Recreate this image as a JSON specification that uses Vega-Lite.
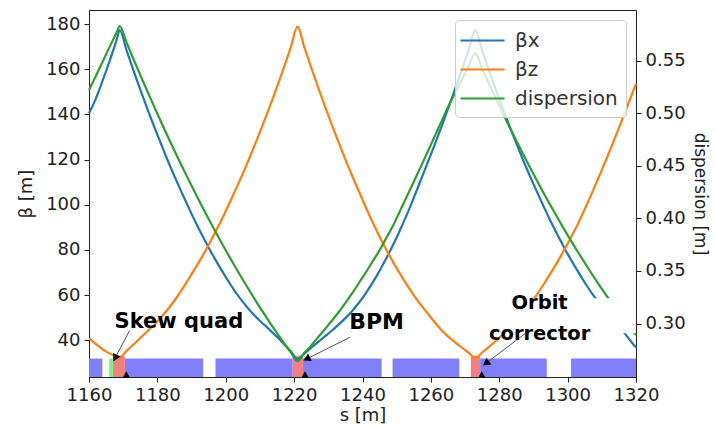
{
  "$schema": "https://vega.github.io/schema/vega-lite/v6.json",
  "width": 547,
  "height": 367,
  "autosize": {"type": "none"},
  "padding": {"left": 89, "top": 10, "right": 79, "bottom": 49},
  "config": {
    "font": "DejaVu Sans",
    "view": {"stroke": "#222", "strokeWidth": 1},
    "axis": {
      "grid": false,
      "domainColor": "#222",
      "tickColor": "#222",
      "tickSize": 5,
      "labelFont": "DejaVu Sans",
      "labelFontSize": 18,
      "labelColor": "#222",
      "labelPadding": 4,
      "labelOverlap": false,
      "labelBound": false,
      "labelFlush": false,
      "titleFont": "DejaVu Sans",
      "titleFontSize": 18,
      "titleFontWeight": "normal",
      "titleColor": "#222"
    }
  },
  "datasets": {
    "lattice": [
      {"s0": 1160, "s1": 1163.9, "kind": "dipole"},
      {"s0": 1170.5, "s1": 1193.4, "kind": "dipole"},
      {"s0": 1197.0, "s1": 1219.6, "kind": "dipole"},
      {"s0": 1222.6, "s1": 1245.6, "kind": "dipole"},
      {"s0": 1248.8, "s1": 1268.3, "kind": "dipole"},
      {"s0": 1274.4, "s1": 1293.9, "kind": "dipole"},
      {"s0": 1301.0, "s1": 1320, "kind": "dipole"},
      {"s0": 1165.9, "s1": 1167.0, "kind": "skew"},
      {"s0": 1167.0, "s1": 1170.5, "kind": "quad"},
      {"s0": 1219.6, "s1": 1222.6, "kind": "quad"},
      {"s0": 1271.7, "s1": 1274.4, "kind": "quad"}
    ],
    "beta": [
      {"s": 1160, "series": "βx", "v": 140.5},
      {"s": 1162, "series": "βx", "v": 147.0},
      {"s": 1164, "series": "βx", "v": 155.0},
      {"s": 1166, "series": "βx", "v": 163.5},
      {"s": 1168, "series": "βx", "v": 172.5},
      {"s": 1169, "series": "βx", "v": 177.3},
      {"s": 1171, "series": "βx", "v": 168.3},
      {"s": 1173, "series": "βx", "v": 159.5},
      {"s": 1175, "series": "βx", "v": 151.0},
      {"s": 1177, "series": "βx", "v": 142.8},
      {"s": 1179, "series": "βx", "v": 134.8},
      {"s": 1181, "series": "βx", "v": 127.2},
      {"s": 1183, "series": "βx", "v": 119.7},
      {"s": 1185, "series": "βx", "v": 112.6},
      {"s": 1187, "series": "βx", "v": 105.8},
      {"s": 1189, "series": "βx", "v": 99.2},
      {"s": 1191, "series": "βx", "v": 92.8},
      {"s": 1193, "series": "βx", "v": 86.8},
      {"s": 1195, "series": "βx", "v": 81.0},
      {"s": 1197, "series": "βx", "v": 75.6},
      {"s": 1199, "series": "βx", "v": 70.5},
      {"s": 1201, "series": "βx", "v": 65.6},
      {"s": 1203, "series": "βx", "v": 61.0},
      {"s": 1205, "series": "βx", "v": 57.0},
      {"s": 1207, "series": "βx", "v": 53.3},
      {"s": 1209, "series": "βx", "v": 50.1},
      {"s": 1211, "series": "βx", "v": 47.2},
      {"s": 1213, "series": "βx", "v": 44.4},
      {"s": 1215, "series": "βx", "v": 41.5},
      {"s": 1217, "series": "βx", "v": 38.4},
      {"s": 1219, "series": "βx", "v": 35.1},
      {"s": 1221, "series": "βx", "v": 31.8},
      {"s": 1223, "series": "βx", "v": 34.1},
      {"s": 1225, "series": "βx", "v": 36.7},
      {"s": 1227, "series": "βx", "v": 39.2},
      {"s": 1229, "series": "βx", "v": 41.7},
      {"s": 1231, "series": "βx", "v": 44.2},
      {"s": 1233, "series": "βx", "v": 46.9},
      {"s": 1235, "series": "βx", "v": 49.8},
      {"s": 1237, "series": "βx", "v": 53.0},
      {"s": 1239, "series": "βx", "v": 56.7},
      {"s": 1241, "series": "βx", "v": 60.9},
      {"s": 1243, "series": "βx", "v": 65.6},
      {"s": 1245, "series": "βx", "v": 70.8},
      {"s": 1247, "series": "βx", "v": 76.4},
      {"s": 1249, "series": "βx", "v": 82.4},
      {"s": 1251, "series": "βx", "v": 88.8},
      {"s": 1253, "series": "βx", "v": 95.7},
      {"s": 1255, "series": "βx", "v": 103.1},
      {"s": 1257, "series": "βx", "v": 110.7},
      {"s": 1259, "series": "βx", "v": 118.4},
      {"s": 1261, "series": "βx", "v": 126.2},
      {"s": 1263, "series": "βx", "v": 134.1},
      {"s": 1265, "series": "βx", "v": 142.4},
      {"s": 1267, "series": "βx", "v": 150.8},
      {"s": 1269, "series": "βx", "v": 159.4},
      {"s": 1271, "series": "βx", "v": 168.3},
      {"s": 1273, "series": "βx", "v": 177.3},
      {"s": 1275, "series": "βx", "v": 168.3},
      {"s": 1277, "series": "βx", "v": 159.5},
      {"s": 1279, "series": "βx", "v": 151.0},
      {"s": 1281, "series": "βx", "v": 142.8},
      {"s": 1283, "series": "βx", "v": 134.8},
      {"s": 1285, "series": "βx", "v": 127.2},
      {"s": 1287, "series": "βx", "v": 119.7},
      {"s": 1289, "series": "βx", "v": 112.6},
      {"s": 1291, "series": "βx", "v": 105.8},
      {"s": 1293, "series": "βx", "v": 99.2},
      {"s": 1295, "series": "βx", "v": 92.8},
      {"s": 1297, "series": "βx", "v": 86.8},
      {"s": 1299, "series": "βx", "v": 81.0},
      {"s": 1301, "series": "βx", "v": 75.6},
      {"s": 1303, "series": "βx", "v": 70.5},
      {"s": 1305, "series": "βx", "v": 65.6},
      {"s": 1307, "series": "βx", "v": 61.0},
      {"s": 1309, "series": "βx", "v": 57.0},
      {"s": 1311, "series": "βx", "v": 53.0},
      {"s": 1313, "series": "βx", "v": 49.5},
      {"s": 1315, "series": "βx", "v": 46.0},
      {"s": 1317, "series": "βx", "v": 42.5},
      {"s": 1319, "series": "βx", "v": 38.6},
      {"s": 1320, "series": "βx", "v": 36.9},
      {"s": 1160, "series": "βz", "v": 40.8},
      {"s": 1162, "series": "βz", "v": 38.3},
      {"s": 1164, "series": "βz", "v": 36.0},
      {"s": 1166, "series": "βz", "v": 34.2},
      {"s": 1168, "series": "βz", "v": 32.9},
      {"s": 1169, "series": "βz", "v": 32.6},
      {"s": 1171, "series": "βz", "v": 35.3},
      {"s": 1173, "series": "βz", "v": 38.1},
      {"s": 1175, "series": "βz", "v": 41.0},
      {"s": 1177, "series": "βz", "v": 43.9},
      {"s": 1179, "series": "βz", "v": 46.8},
      {"s": 1181, "series": "βz", "v": 50.0},
      {"s": 1183, "series": "βz", "v": 53.6},
      {"s": 1185, "series": "βz", "v": 57.6},
      {"s": 1187, "series": "βz", "v": 62.0},
      {"s": 1189, "series": "βz", "v": 66.8},
      {"s": 1191, "series": "βz", "v": 71.7},
      {"s": 1193, "series": "βz", "v": 76.8},
      {"s": 1195, "series": "βz", "v": 82.2},
      {"s": 1197, "series": "βz", "v": 88.0},
      {"s": 1199, "series": "βz", "v": 94.0},
      {"s": 1201, "series": "βz", "v": 100.4},
      {"s": 1203, "series": "βz", "v": 107.0},
      {"s": 1205, "series": "βz", "v": 113.8},
      {"s": 1207, "series": "βz", "v": 120.9},
      {"s": 1209, "series": "βz", "v": 128.4},
      {"s": 1211, "series": "βz", "v": 136.0},
      {"s": 1213, "series": "βz", "v": 144.0},
      {"s": 1215, "series": "βz", "v": 152.2},
      {"s": 1217, "series": "βz", "v": 160.7},
      {"s": 1219, "series": "βz", "v": 169.5},
      {"s": 1221, "series": "βz", "v": 178.8},
      {"s": 1223, "series": "βz", "v": 169.6},
      {"s": 1225, "series": "βz", "v": 160.7},
      {"s": 1227, "series": "βz", "v": 152.0},
      {"s": 1229, "series": "βz", "v": 143.6},
      {"s": 1231, "series": "βz", "v": 135.5},
      {"s": 1233, "series": "βz", "v": 127.7},
      {"s": 1235, "series": "βz", "v": 120.0},
      {"s": 1237, "series": "βz", "v": 112.7},
      {"s": 1239, "series": "βz", "v": 105.7},
      {"s": 1241, "series": "βz", "v": 98.8},
      {"s": 1243, "series": "βz", "v": 92.1},
      {"s": 1245, "series": "βz", "v": 85.8},
      {"s": 1247, "series": "βz", "v": 80.0},
      {"s": 1249, "series": "βz", "v": 74.5},
      {"s": 1251, "series": "βz", "v": 69.4},
      {"s": 1253, "series": "βz", "v": 64.5},
      {"s": 1255, "series": "βz", "v": 60.0},
      {"s": 1257, "series": "βz", "v": 55.8},
      {"s": 1259, "series": "βz", "v": 52.0},
      {"s": 1261, "series": "βz", "v": 48.2},
      {"s": 1263, "series": "βz", "v": 44.7},
      {"s": 1265, "series": "βz", "v": 41.7},
      {"s": 1267, "series": "βz", "v": 39.2},
      {"s": 1269, "series": "βz", "v": 36.8},
      {"s": 1271, "series": "βz", "v": 34.5},
      {"s": 1273, "series": "βz", "v": 32.2},
      {"s": 1275, "series": "βz", "v": 34.6},
      {"s": 1277, "series": "βz", "v": 37.1},
      {"s": 1279, "series": "βz", "v": 39.7},
      {"s": 1281, "series": "βz", "v": 42.5},
      {"s": 1283, "series": "βz", "v": 45.5},
      {"s": 1285, "series": "βz", "v": 48.7},
      {"s": 1287, "series": "βz", "v": 52.2},
      {"s": 1289, "series": "βz", "v": 56.0},
      {"s": 1291, "series": "βz", "v": 60.2},
      {"s": 1293, "series": "βz", "v": 64.8},
      {"s": 1295, "series": "βz", "v": 69.6},
      {"s": 1297, "series": "βz", "v": 74.6},
      {"s": 1299, "series": "βz", "v": 80.0},
      {"s": 1301, "series": "βz", "v": 85.6},
      {"s": 1303, "series": "βz", "v": 91.5},
      {"s": 1305, "series": "βz", "v": 98.0},
      {"s": 1307, "series": "βz", "v": 104.8},
      {"s": 1309, "series": "βz", "v": 111.8},
      {"s": 1311, "series": "βz", "v": 119.0},
      {"s": 1313, "series": "βz", "v": 126.4},
      {"s": 1315, "series": "βz", "v": 134.0},
      {"s": 1317, "series": "βz", "v": 141.7},
      {"s": 1319, "series": "βz", "v": 149.6},
      {"s": 1320, "series": "βz", "v": 153.6}
    ],
    "disp": [
      {"s": 1160, "series": "dispersion", "v": 0.5221},
      {"s": 1162, "series": "dispersion", "v": 0.5354},
      {"s": 1164, "series": "dispersion", "v": 0.5492},
      {"s": 1166, "series": "dispersion", "v": 0.5630},
      {"s": 1168, "series": "dispersion", "v": 0.5764},
      {"s": 1169, "series": "dispersion", "v": 0.5830},
      {"s": 1171, "series": "dispersion", "v": 0.5672},
      {"s": 1173, "series": "dispersion", "v": 0.5517},
      {"s": 1175, "series": "dispersion", "v": 0.5364},
      {"s": 1177, "series": "dispersion", "v": 0.5215},
      {"s": 1179, "series": "dispersion", "v": 0.5068},
      {"s": 1181, "series": "dispersion", "v": 0.4924},
      {"s": 1183, "series": "dispersion", "v": 0.4782},
      {"s": 1185, "series": "dispersion", "v": 0.4644},
      {"s": 1187, "series": "dispersion", "v": 0.4509},
      {"s": 1189, "series": "dispersion", "v": 0.4376},
      {"s": 1191, "series": "dispersion", "v": 0.4246},
      {"s": 1193, "series": "dispersion", "v": 0.4119},
      {"s": 1195, "series": "dispersion", "v": 0.3995},
      {"s": 1197, "series": "dispersion", "v": 0.3873},
      {"s": 1199, "series": "dispersion", "v": 0.3755},
      {"s": 1201, "series": "dispersion", "v": 0.3639},
      {"s": 1203, "series": "dispersion", "v": 0.3526},
      {"s": 1205, "series": "dispersion", "v": 0.3416},
      {"s": 1207, "series": "dispersion", "v": 0.3309},
      {"s": 1209, "series": "dispersion", "v": 0.3204},
      {"s": 1211, "series": "dispersion", "v": 0.3103},
      {"s": 1213, "series": "dispersion", "v": 0.3004},
      {"s": 1215, "series": "dispersion", "v": 0.2908},
      {"s": 1217, "series": "dispersion", "v": 0.2815},
      {"s": 1219, "series": "dispersion", "v": 0.2725},
      {"s": 1221, "series": "dispersion", "v": 0.2640},
      {"s": 1223, "series": "dispersion", "v": 0.2721},
      {"s": 1225, "series": "dispersion", "v": 0.2792},
      {"s": 1227, "series": "dispersion", "v": 0.2868},
      {"s": 1229, "series": "dispersion", "v": 0.2945},
      {"s": 1231, "series": "dispersion", "v": 0.3026},
      {"s": 1233, "series": "dispersion", "v": 0.3107},
      {"s": 1235, "series": "dispersion", "v": 0.3197},
      {"s": 1237, "series": "dispersion", "v": 0.3288},
      {"s": 1239, "series": "dispersion", "v": 0.3388},
      {"s": 1241, "series": "dispersion", "v": 0.3488},
      {"s": 1243, "series": "dispersion", "v": 0.3592},
      {"s": 1245, "series": "dispersion", "v": 0.3697},
      {"s": 1247, "series": "dispersion", "v": 0.3816},
      {"s": 1249, "series": "dispersion", "v": 0.3935},
      {"s": 1251, "series": "dispersion", "v": 0.4073},
      {"s": 1253, "series": "dispersion", "v": 0.4211},
      {"s": 1255, "series": "dispersion", "v": 0.4349},
      {"s": 1257, "series": "dispersion", "v": 0.4488},
      {"s": 1259, "series": "dispersion", "v": 0.4630},
      {"s": 1261, "series": "dispersion", "v": 0.4773},
      {"s": 1263, "series": "dispersion", "v": 0.4916},
      {"s": 1265, "series": "dispersion", "v": 0.5059},
      {"s": 1267, "series": "dispersion", "v": 0.5188},
      {"s": 1269, "series": "dispersion", "v": 0.5316},
      {"s": 1271, "series": "dispersion", "v": 0.5445},
      {"s": 1273, "series": "dispersion", "v": 0.5570},
      {"s": 1275, "series": "dispersion", "v": 0.5425},
      {"s": 1277, "series": "dispersion", "v": 0.5282},
      {"s": 1279, "series": "dispersion", "v": 0.5142},
      {"s": 1281, "series": "dispersion", "v": 0.5005},
      {"s": 1283, "series": "dispersion", "v": 0.4870},
      {"s": 1285, "series": "dispersion", "v": 0.4739},
      {"s": 1287, "series": "dispersion", "v": 0.4610},
      {"s": 1289, "series": "dispersion", "v": 0.4484},
      {"s": 1291, "series": "dispersion", "v": 0.4361},
      {"s": 1293, "series": "dispersion", "v": 0.4240},
      {"s": 1295, "series": "dispersion", "v": 0.4123},
      {"s": 1297, "series": "dispersion", "v": 0.4008},
      {"s": 1299, "series": "dispersion", "v": 0.3896},
      {"s": 1301, "series": "dispersion", "v": 0.3787},
      {"s": 1303, "series": "dispersion", "v": 0.3680},
      {"s": 1305, "series": "dispersion", "v": 0.3577},
      {"s": 1307, "series": "dispersion", "v": 0.3476},
      {"s": 1309, "series": "dispersion", "v": 0.3378},
      {"s": 1311, "series": "dispersion", "v": 0.3283},
      {"s": 1313, "series": "dispersion", "v": 0.3191},
      {"s": 1315, "series": "dispersion", "v": 0.3101},
      {"s": 1317, "series": "dispersion", "v": 0.3015},
      {"s": 1319, "series": "dispersion", "v": 0.2931},
      {"s": 1320, "series": "dispersion", "v": 0.2890}
    ],
    "notes": [
      {"label": "Skew quad", "tx": 1186.3, "ty": 45.5, "ax": 1171.9, "ay": 44.4, "hx": 1167.8, "hy": 32.6},
      {"label": "BPM", "tx": 1244.1, "ty": 45.2, "ax": 1236.3, "ay": 41.3, "hx": 1224.0, "hy": 32.0},
      {"label": "Orbit\ncorrector", "tx": 1291.8, "ty": 54.0, "ax": 1287.6, "ay": 43.0, "hx": 1276.4, "hy": 30.1}
    ],
    "feet": [
      {"s": 1170.9},
      {"s": 1223.2},
      {"s": 1274.9}
    ]
  },
  "layer": [
    {
      "layer": [
        {
          "data": {"name": "lattice"},
          "transform": [{"filter": "datum.kind === 'dipole'"}],
          "mark": {"type": "rect", "color": "#8080ff"},
          "encoding": {
            "x": {"field": "s0", "type": "quantitative"},
            "x2": {"field": "s1"},
            "y": {"datum": 23.74, "type": "quantitative"},
            "y2": {"datum": 31.9}
          }
        },
        {
          "data": {"name": "lattice"},
          "transform": [{"filter": "datum.kind === 'quad'"}],
          "mark": {"type": "rect", "color": "#f47f7f", "cornerRadiusTopLeft": 2, "cornerRadiusTopRight": 2},
          "encoding": {
            "x": {"field": "s0", "type": "quantitative"},
            "x2": {"field": "s1"},
            "y": {"datum": 23.74, "type": "quantitative"},
            "y2": {"datum": 33.2}
          }
        },
        {
          "data": {"name": "lattice"},
          "transform": [{"filter": "datum.kind === 'skew'"}],
          "mark": {"type": "rect", "color": "#80f080"},
          "encoding": {
            "x": {"field": "s0", "type": "quantitative"},
            "x2": {"field": "s1"},
            "y": {"datum": 23.74, "type": "quantitative"},
            "y2": {"datum": 31.9}
          }
        },
        {
          "data": {"name": "beta"},
          "mark": {"type": "line", "interpolate": "monotone", "strokeWidth": 2.2},
          "encoding": {
            "x": {
              "field": "s",
              "type": "quantitative",
              "scale": {"domain": [1160, 1320], "nice": false, "zero": false},
              "axis": {"title": "s [m]", "values": [1160, 1180, 1200, 1220, 1240, 1260, 1280, 1300, 1320], "format": "d", "titlePadding": 2, "labelPadding": 4}
            },
            "y": {
              "field": "v",
              "type": "quantitative",
              "scale": {"domain": [23.74, 186.2], "nice": false, "zero": false},
              "axis": {"title": "β [m]", "values": [40, 60, 80, 100, 120, 140, 160, 180], "titlePadding": 10}
            },
            "color": {
              "field": "series",
              "type": "nominal",
              "scale": {"domain": ["βx", "βz", "dispersion"], "range": ["#1f77b4", "#ff7f0e", "#2ca02c"]},
              "legend": {
                "title": null,
                "orient": "top-right",
                "offset": 10,
                "symbolType": "M-2,0H2",
                "symbolSize": 484,
                "symbolOffset": 7,
                "symbolStrokeWidth": 2.2,
                "labelFontSize": 20,
                "labelFont": "DejaVu Sans",
                "labelColor": "#333",
                "labelOffset": 20,
                "rowPadding": 6,
                "padding": 8,
                "fillColor": "rgba(255,255,255,0.8)",
                "strokeColor": "#cccccc",
                "cornerRadius": 4
              }
            }
          }
        }
      ]
    },
    {
      "data": {"name": "disp"},
      "mark": {"type": "line", "interpolate": "monotone", "strokeWidth": 2.2},
      "encoding": {
        "x": {"field": "s", "type": "quantitative"},
        "y": {
          "field": "v",
          "type": "quantitative",
          "scale": {"domain": [0.2491, 0.5983], "nice": false, "zero": false},
          "axis": {"orient": "right", "title": "dispersion [m]", "titleFontSize": 17, "values": [0.3, 0.35, 0.4, 0.45, 0.5, 0.55], "format": ".2f", "titlePadding": 5}
        },
        "color": {"field": "series", "type": "nominal"}
      }
    },
    {
      "layer": [
        {
          "data": {"values": [{}]},
          "mark": {"type": "rect", "color": "white"},
          "encoding": {
            "x": {"datum": 1268, "type": "quantitative"},
            "x2": {"datum": 1320},
            "y": {"datum": 43.1, "type": "quantitative", "scale": {"domain": [23.74, 186.2], "nice": false, "zero": false}, "axis": null},
            "y2": {"datum": 58.6}
          }
        },
        {
          "data": {"name": "notes"},
          "mark": {"type": "rule", "color": "#555", "strokeWidth": 1},
          "encoding": {
            "x": {"field": "ax", "type": "quantitative"},
            "y": {"field": "ay", "type": "quantitative"},
            "x2": {"field": "hx"},
            "y2": {"field": "hy"}
          }
        },
        {
          "data": {"name": "notes"},
          "transform": [{"filter": "datum.label === 'Skew quad'"}],
          "mark": {"type": "point", "shape": "triangle", "filled": true, "color": "black", "opacity": 1, "size": 70, "angle": 208},
          "encoding": {
            "x": {"field": "hx", "type": "quantitative"},
            "y": {"field": "hy", "type": "quantitative"}
          }
        },
        {
          "data": {"name": "notes"},
          "transform": [{"filter": "datum.label === 'BPM'"}],
          "mark": {"type": "point", "shape": "triangle", "filled": true, "color": "black", "opacity": 1, "size": 70, "angle": 243},
          "encoding": {
            "x": {"field": "hx", "type": "quantitative"},
            "y": {"field": "hy", "type": "quantitative"}
          }
        },
        {
          "data": {"name": "notes"},
          "transform": [{"filter": "datum.label === 'Orbit\\ncorrector'"}],
          "mark": {"type": "point", "shape": "triangle", "filled": true, "color": "black", "opacity": 1, "size": 70, "angle": 233},
          "encoding": {
            "x": {"field": "hx", "type": "quantitative"},
            "y": {"field": "hy", "type": "quantitative"}
          }
        },
        {
          "data": {"name": "feet"},
          "mark": {"type": "point", "shape": "triangle-up", "filled": true, "color": "black", "opacity": 1, "size": 50},
          "encoding": {
            "x": {"field": "s", "type": "quantitative"},
            "y": {"datum": 24.9, "type": "quantitative"}
          }
        },
        {
          "data": {"name": "notes"},
          "transform": [{"filter": "datum.label === 'Skew quad'"}],
          "mark": {"type": "text", "font": "DejaVu Sans", "fontSize": 21, "fontWeight": "bold", "color": "black", "align": "center", "baseline": "alphabetic"},
          "encoding": {
            "x": {"field": "tx", "type": "quantitative"},
            "y": {"field": "ty", "type": "quantitative"},
            "text": {"field": "label"}
          }
        },
        {
          "data": {"name": "notes"},
          "transform": [{"filter": "datum.label === 'BPM'"}],
          "mark": {"type": "text", "font": "DejaVu Sans", "fontSize": 22, "fontWeight": "bold", "color": "black", "align": "center", "baseline": "alphabetic"},
          "encoding": {
            "x": {"field": "tx", "type": "quantitative"},
            "y": {"field": "ty", "type": "quantitative"},
            "text": {"field": "label"}
          }
        },
        {
          "data": {"name": "notes"},
          "transform": [{"filter": "datum.label === 'Orbit\\ncorrector'"}],
          "mark": {"type": "text", "font": "DejaVu Sans", "fontSize": 19.5, "fontWeight": "bold", "color": "black", "align": "center", "baseline": "alphabetic", "lineBreak": "\n", "lineHeight": 31},
          "encoding": {
            "x": {"field": "tx", "type": "quantitative"},
            "y": {"field": "ty", "type": "quantitative"},
            "text": {"field": "label"}
          }
        }
      ]
    }
  ],
  "resolve": {"scale": {"y": "independent"}}
}
